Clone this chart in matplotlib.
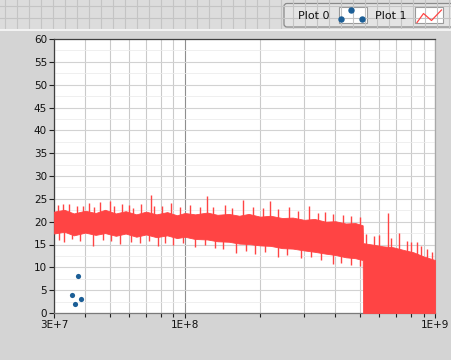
import numpy as np
import matplotlib.pyplot as plt
from matplotlib.patches import FancyBboxPatch, Rectangle

# Plot 0: scattered points
p0_freq = [3.55e7, 3.65e7, 3.75e7, 3.86e7]
p0_val = [4, 2, 8, 3]

# Plot 1: noisy trace, read as an envelope (upper / lower edges of the red band)
band_freq = np.array([3.0, 3.3, 3.6, 4.0, 4.4, 4.8, 5.3, 5.8, 6.4, 7.0, 7.7, 8.5, 9.3, 10,
                      11, 12.3, 13.5, 15, 16.5, 18, 20, 22, 24.5, 27, 30, 33, 36.5, 40,
                      44, 48, 51.4, 51.6, 56, 62, 68, 75, 82, 90, 100]) * 1e7
band_upper = [22.2, 22.6, 21.8, 22.4, 21.9, 22.6, 21.8, 22.3, 21.6, 22.2, 21.6, 22.1, 21.4, 21.9,
              21.6, 22.0, 21.5, 21.7, 21.3, 21.7, 21.1, 21.3, 20.8, 20.9, 20.4, 20.6, 20.0, 20.1,
              19.6, 19.7, 19.2, 15.3, 15.0, 14.6, 14.4, 13.8, 13.3, 12.4, 11.6]
band_lower = [17.4, 17.8, 17.0, 17.6, 17.1, 17.5, 16.9, 17.4, 16.7, 17.2, 16.6, 17.0, 16.4, 16.7,
              16.2, 16.1, 15.7, 15.6, 15.2, 15.1, 14.8, 14.7, 14.2, 14.1, 13.7, 13.4, 13.0, 12.7,
              12.2, 12.0, 11.6, 0, 0, 0, 0, 0, 0, 0, 0]

# single peaks poking out above / below the band
spike_up_freq = np.array([3.1, 3.25, 3.45, 3.7, 3.9, 4.15, 4.35, 4.6, 5.0, 5.2, 5.6, 6.0, 6.2, 6.7,
                          7.33, 7.5, 8.1, 8.8, 9.6, 10.5, 11.5, 12.3, 13.0, 14.5, 15.5, 17.1, 18.7,
                          20.5, 21.9, 23.5, 26, 28.3, 31.4, 34, 36.3, 39, 43, 46, 50, 53, 57, 60,
                          64.9, 67, 72, 77, 80, 85, 88, 93, 97]) * 1e7
spike_up_val = [23.6, 23.9, 23.8, 23.5, 23.4, 24.0, 23.3, 24.2, 24.5, 23.5, 23.8, 23.6, 23.1, 23.9,
                25.9, 23.4, 23.5, 24.0, 23.2, 23.6, 23.3, 25.6, 23.3, 23.6, 23.0, 24.7, 23.2,
                23.0, 24.5, 22.8, 23.2, 22.4, 23.5, 22.0, 22.2, 21.6, 21.5, 21.3, 21.0, 17.2, 16.8, 17.0,
                21.9, 16.4, 17.5, 15.8, 15.6, 15.5, 14.6, 14.0, 13.4]
spike_dn_freq = np.array([3.15, 3.3, 3.55, 3.8, 4.3, 4.7, 5.05, 5.5, 6.1, 6.6, 7.2, 7.8, 8.3, 9.0,
                          9.8, 11, 12, 13.2, 14.2, 16, 17.5, 19, 21, 23.5, 25.5, 29, 32, 35, 39,
                          42, 46, 50]) * 1e7
spike_dn_val = [16.0, 15.5, 16.2, 15.8, 14.6, 15.9, 15.7, 15.2, 15.6, 15.3, 15.7, 14.6, 15.4, 15.0,
                15.3, 14.4, 14.8, 14.2, 14.0, 13.2, 13.6, 13.0, 13.3, 12.3, 12.6, 12.0, 12.2, 11.6, 10.8,
                11.0, 10.6, 10.4]

x_ticks = [3e7, 1e8, 1e9]
x_labels = ['3E+7', '1E+8', '1E+9']
legend_names = ['Plot 0', 'Plot 1']

RED = '#ff4444'
BLUE = '#1b5e96'
W, H = 451, 360

fig = plt.figure(figsize=(W / 100, H / 100), dpi=100, facecolor='#d4d4d4')

# top strip with the panel grid and the plot legend
strip = fig.add_axes([0, (H - 31) / H, 1, 31 / H])
strip.set_xlim(0, W)
strip.set_ylim(31, 0)
strip.axis('off')
strip.add_patch(Rectangle((0, 0), W, 31, facecolor='#dcdcdc', edgecolor='none'))
for gx in np.arange(4.7, W, 12):
    strip.axvline(gx, color='#c4c4c4', lw=0.8)
for gy in [6, 18]:
    strip.axhline(gy, color='#c4c4c4', lw=0.8)
strip.axhline(30.3, color='#f2f2f2', lw=1.5)
strip.add_patch(FancyBboxPatch((284, 3.5), 175, 23.5, boxstyle='round,pad=0,rounding_size=3',
                               facecolor='#e4e4e4', edgecolor='#8a8a8a', lw=0.9))
strip.text(298, 16, legend_names[0], fontsize=8, va='center', ha='left', color='#111111')
strip.text(375, 16, legend_names[1], fontsize=8, va='center', ha='left', color='#111111')
strip.add_patch(Rectangle((339, 7), 28, 16, facecolor='white', edgecolor='#9a9a9a', lw=0.8))
strip.add_patch(Rectangle((415, 7), 28, 16, facecolor='white', edgecolor='#9a9a9a', lw=0.8))
strip.plot([340.5, 351, 361.5], [19.3, 9.5, 19.3], 'o', color=BLUE, ms=3.6)
strip.plot([417, 423.5, 431.5, 441.5], [22.5, 13.5, 20.5, 10], color=RED, lw=0.9)

# main graph
ax = fig.add_axes([54 / W, (H - 313) / H, 381 / W, 274 / H])
ax.set_facecolor('white')
ax.set_xscale('log')
ax.set_xlim(3e7, 1e9)
ax.set_ylim(0, 60)

ax.fill_between(band_freq, band_lower, band_upper, color=RED, lw=0.6, edgecolor=RED, zorder=3)
lf = np.log10(band_freq)
up_base = np.interp(np.log10(spike_up_freq), lf, band_upper)
dn_base = np.interp(np.log10(spike_dn_freq), lf, band_lower)
ax.vlines(spike_up_freq, up_base - 1, spike_up_val, color=RED, lw=1.0, zorder=3)
ax.vlines(spike_dn_freq, spike_dn_val, dn_base + 1, color=RED, lw=1.0, zorder=3)
ax.scatter(p0_freq, p0_val, s=14, color=BLUE, zorder=4, linewidths=0)

ax.set_xticks(x_ticks)
ax.set_xticklabels(x_labels)
minor_x = [m * d for d in (1e7, 1e8) for m in range(2, 10) if 3e7 < m * d < 1e9]
ax.set_xticks(minor_x, minor=True)
ax.set_yticks(np.arange(0, 61, 5))
ax.set_yticks(np.arange(2.5, 60, 5), minor=True)

ax.tick_params(axis='both', which='major', direction='out', length=3.5, width=0.8,
               color='#202020', labelsize=7.5, labelcolor='#111111', pad=1.5)
ax.tick_params(axis='x', which='minor', direction='out', length=3, width=0.8, color='#202020')
ax.tick_params(axis='y', which='minor', length=0)

ax.grid(True, axis='x', which='minor', color='#cacaca', lw=0.8, zorder=0)
ax.grid(True, axis='x', which='major', color='#8e8e8e', lw=0.8, zorder=0)
ax.grid(True, axis='y', which='major', color='#d2d2d2', lw=0.8, zorder=0)
ax.grid(True, axis='y', which='minor', color='#ececec', lw=0.6, zorder=0)
ax.set_axisbelow(True)

ax.spines['left'].set_color('#404040')
ax.spines['top'].set_color('#404040')
ax.spines['bottom'].set_color('#7a7a7a')
ax.spines['right'].set_color('#a8a8a8')
for s in ax.spines.values():
    s.set_linewidth(0.9)

fig.savefig('out.png', dpi=100, facecolor=fig.get_facecolor())
